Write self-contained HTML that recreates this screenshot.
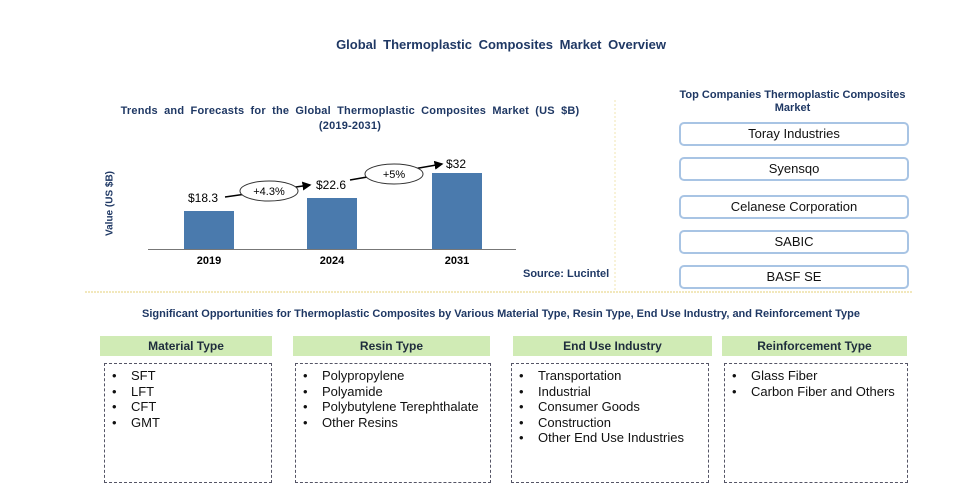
<!DOCTYPE html>
<html><head><style>
body{margin:0;width:968px;height:503px;background:#fff;position:relative;font-family:"Liberation Sans",Arial,sans-serif;overflow:hidden}
.a{position:absolute}
.t{color:#1f3864;font-weight:bold;font-size:12px;text-align:center}
.bar{position:absolute;background:#4a7aad;width:50px}
.yr{position:absolute;font-size:11px;font-weight:bold;width:60px;text-align:center;top:255px}
.co{position:absolute;left:679px;width:226px;height:20px;border:2px solid #a8c4e4;border-radius:5px;text-align:center;font-size:13px;line-height:20px;color:#111}
.gh{position:absolute;top:336px;height:20px;background:#d0ebb5;text-align:center;font-size:12px;font-weight:bold;line-height:20px;color:#1f2d3d}
.db{position:absolute;top:363px;height:120px;border:1px dashed #556;font-size:13px;line-height:15.5px;color:#111;box-sizing:border-box;padding-top:4px}
.db div{padding-left:26px;position:relative}
.db div:before{content:"•";position:absolute;left:7px}
</style></head><body>
<div class="a t" style="left:0;width:1002px;top:37px;font-size:13px;word-spacing:3px">Global Thermoplastic Composites Market Overview</div>
<div class="a t" style="left:100px;width:500px;top:104px;font-size:11px;line-height:15px;word-spacing:3px;letter-spacing:0.2px">Trends and Forecasts for the Global Thermoplastic Composites Market (US $B)<br>(2019-2031)</div>
<div class="a" style="left:60px;top:198px;width:100px;text-align:center;transform:rotate(-90deg);font-size:10px;font-weight:bold;color:#1f3864">Value (US $B)</div>
<div class="a" style="left:148px;top:249px;width:368px;height:1px;background:#777"></div>
<div class="bar" style="left:184px;top:211px;height:38px"></div>
<div class="bar" style="left:307px;top:198px;height:51px"></div>
<div class="bar" style="left:432px;top:173px;height:76px"></div>
<div class="yr" style="left:179px">2019</div><div class="yr" style="left:302px">2024</div><div class="yr" style="left:427px">2031</div>
<div class="a" style="left:188px;top:191px;font-size:12px">$18.3</div>
<div class="a" style="left:316px;top:178px;font-size:12px">$22.6</div>
<div class="a" style="left:446px;top:157px;font-size:12px">$32</div>
<svg class="a" style="left:0;top:0" width="968" height="503">
<defs><marker id="m" markerWidth="6" markerHeight="6" refX="5" refY="3" orient="auto"><path d="M0,0L6,3L0,6z" fill="#000"/></marker></defs>
<line x1="225" y1="197" x2="310" y2="185" stroke="#000" stroke-width="1.5" marker-end="url(#m)"/>
<ellipse cx="269" cy="191" rx="29" ry="10" fill="#fff" stroke="#333"/>
<text x="269" y="195" font-size="11" text-anchor="middle" font-family="Liberation Sans">+4.3%</text>
<line x1="350" y1="180" x2="442" y2="164" stroke="#000" stroke-width="1.5" marker-end="url(#m)"/>
<ellipse cx="394" cy="174" rx="29" ry="10" fill="#fff" stroke="#333"/>
<text x="394" y="178" font-size="11" text-anchor="middle" font-family="Liberation Sans">+5%</text>
<line x1="615" y1="100" x2="615" y2="290" stroke="#f0e6b0" stroke-dasharray="2,2"/>
<line x1="85" y1="292" x2="912" y2="292" stroke="#e6d27a" stroke-dasharray="2,1"/>
</svg>
<div class="a" style="left:523px;top:268px;font-size:11px;font-weight:bold;color:#1f3864">Source: Lucintel</div>
<div class="a t" style="left:670px;width:245px;top:89px;font-size:11px;line-height:13px">Top Companies Thermoplastic Composites<br>Market</div>
<div class="co" style="top:122px">Toray Industries</div>
<div class="co" style="top:157px">Syensqo</div>
<div class="co" style="top:195px">Celanese Corporation</div>
<div class="co" style="top:230px">SABIC</div>
<div class="co" style="top:265px">BASF SE</div>
<div class="a t" style="left:0;width:1002px;top:308px;font-size:11px">Significant Opportunities for Thermoplastic Composites by Various Material Type, Resin Type, End Use Industry, and Reinforcement Type</div>
<div class="gh" style="left:100px;width:172px">Material Type</div>
<div class="gh" style="left:293px;width:197px">Resin Type</div>
<div class="gh" style="left:513px;width:199px">End Use Industry</div>
<div class="gh" style="left:722px;width:185px">Reinforcement Type</div>
<div class="db" style="left:104px;width:168px"><div>SFT</div><div>LFT</div><div>CFT</div><div>GMT</div></div>
<div class="db" style="left:295px;width:196px"><div>Polypropylene</div><div>Polyamide</div><div>Polybutylene Terephthalate</div><div>Other Resins</div></div>
<div class="db" style="left:511px;width:198px"><div>Transportation</div><div>Industrial</div><div>Consumer Goods</div><div>Construction</div><div>Other End Use Industries</div></div>
<div class="db" style="left:724px;width:184px"><div>Glass Fiber</div><div>Carbon Fiber and Others</div></div>
</body></html>
